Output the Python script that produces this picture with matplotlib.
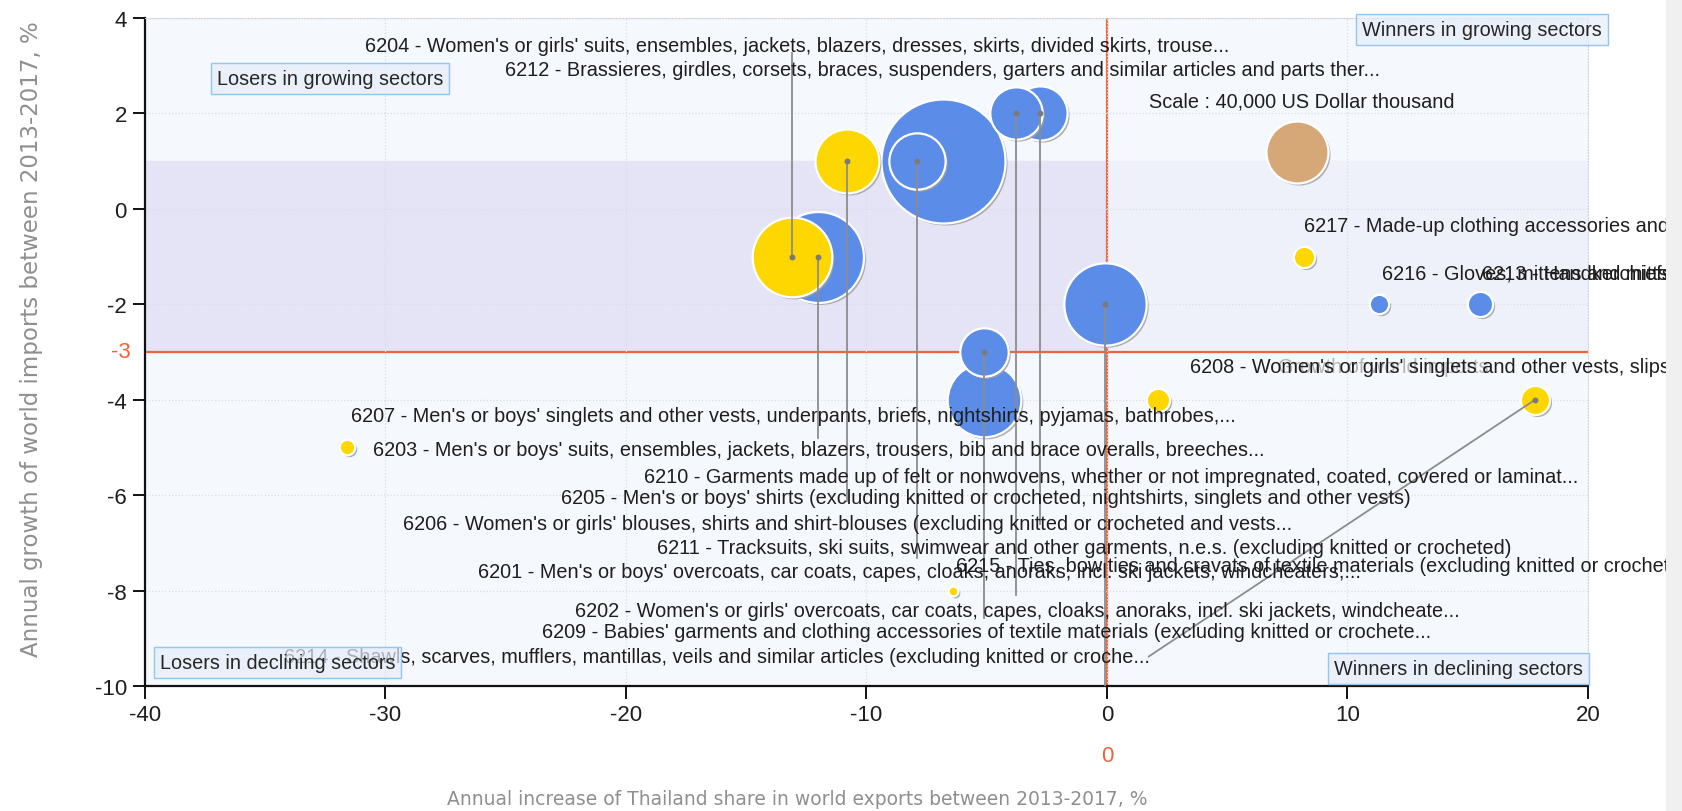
import matplotlib
matplotlib.use('Agg')
import numpy as np
import matplotlib.pyplot as plt
import matplotlib.transforms as mtransforms
from matplotlib import font_manager
from matplotlib.patches import Rectangle

# bubbles: x = increase of Thailand export share, y = growth of world imports,
# value = Thailand exports (US Dollar thousand)
bub_x = [-6.8, -12.0, -0.1, -13.1, -5.1, -10.8, -7.9, -2.8, -3.8, -5.1,
         17.8, 15.5, 2.1, 8.2, 11.3, -31.6, -6.4]
bub_y = [1.0, -1.0, -2.0, -1.0, -4.0, 1.0, 1.0, 2.0, 2.0, -3.0,
         -4.0, -2.0, -4.0, -1.0, -2.0, -5.0, -8.0]
bub_val = [160000, 86000, 70500, 66000, 56400, 42500, 33000, 30600, 28500, 24400,
           8800, 6600, 5600, 4700, 3900, 2500, 1000]
bub_kind = ['b', 'b', 'b', 'y', 'b', 'y', 'b', 'b', 'b', 'b',
            'y', 'b', 'y', 'y', 'b', 'y', 'y']

# scale bubble
scale_x, scale_y, scale_val = 7.9, 1.2, 40000

# leader lines: bubble index -> end point near its label
lead_from = [3, 1, 5, 6, 9, 8, 7, 2, 10]
lead_to_x = [-13.1, -12.0, -10.8, -7.9, -5.1, -3.8, -2.8, -0.1, 1.74]
lead_to_y = [3.26, -4.8, -6.12, -7.31, -8.57, -8.1, -6.6, -10.0, -9.38]

lab_text = [
    "6204 - Women's or girls' suits, ensembles, jackets, blazers, dresses, skirts, divided skirts, trouse...",
    "6212 - Brassieres, girdles, corsets, braces, suspenders, garters and similar articles and parts ther...",
    "Scale : 40,000 US Dollar thousand",
    "6217 - Made-up clothing accessories and parts of clothing or of clothing accessories",
    "6216 - Gloves, mittens and mitts, (excluding knitted or crocheted)",
    "6213 - Handkerchiefs",
    "6208 - Women's or girls' singlets and other vests, slips, petticoats, briefs",
    "6207 - Men's or boys' singlets and other vests, underpants, briefs, nightshirts, pyjamas, bathrobes,...",
    "6203 - Men's or boys' suits, ensembles, jackets, blazers, trousers, bib and brace overalls, breeches...",
    "6210 - Garments made up of felt or nonwovens, whether or not impregnated, coated, covered or laminat...",
    "6205 - Men's or boys' shirts (excluding knitted or crocheted, nightshirts, singlets and other vests)",
    "6206 - Women's or girls' blouses, shirts and shirt-blouses (excluding knitted or crocheted and vests...",
    "6211 - Tracksuits, ski suits, swimwear and other garments, n.e.s. (excluding knitted or crocheted)",
    "6201 - Men's or boys' overcoats, car coats, capes, cloaks, anoraks, incl. ski jackets, windcheaters,...",
    "6215 - Ties, bow ties and cravats of textile materials (excluding knitted or crocheted)",
    "6202 - Women's or girls' overcoats, car coats, capes, cloaks, anoraks, incl. ski jackets, windcheate...",
    "6209 - Babies' garments and clothing accessories of textile materials (excluding knitted or crochete...",
    "6214 - Shawls, scarves, mufflers, mantillas, veils and similar articles (excluding knitted or croche...",
]
lab_x = [-30.85, -25.04, 1.74, 8.21, 11.43, 15.58, 3.44, -31.43, -30.54, -19.24,
         -22.72, -29.29, -18.7, -26.16, -6.29, -22.14, -23.48, -34.2]
lab_y = [3.42, 2.92, 2.25, -0.34, -1.35, -1.35, -3.31, -4.34, -5.04, -5.6,
         -6.05, -6.59, -7.09, -7.6, -7.47, -8.41, -8.86, -9.38]

quad_text = ['Losers in growing sectors', 'Winners in growing sectors',
             'Losers in declining sectors', 'Winners in declining sectors']
quad_x = [-32.3, 15.6, -34.5, 14.6]
quad_y = [2.73, 3.75, -9.5, -9.64]

avg_x, avg_y = 0, -3

colors = {'b': '#5b8de8', 'y': '#fed600'}

plt.rcParams['axes.unicode_minus'] = False


def have_font(name):
    try:
        font_manager.findfont(font_manager.FontProperties(family=name),
                              fallback_to_default=False)
        return True
    except ValueError:
        return False


narrow = have_font('Liberation Sans Narrow')
lab_font = ['Liberation Sans Narrow', 'Liberation Sans'] if narrow else ['Liberation Sans']
lab_size = 17 if narrow else 14.3
tick_size = 19 if narrow else 16

W, H, DPI = 1683, 812, 100
fig = plt.figure(figsize=(W / DPI, H / DPI), dpi=DPI)
ax = fig.add_axes([145 / W, 1 - 687 / H, (1588 - 145) / W, (687 - 19) / H])
ax.set_xlim(-40, 20)
ax.set_ylim(-10, 4)
ax.set_facecolor('#f5f8fd')


def size_of(v):
    r_px = 31 * np.sqrt(v / 40000.0)
    return (2 * r_px * 72 / DPI) ** 2


# shaded band between average import growth and +1
ax.axhspan(avg_y, 1, xmin=0, xmax=(avg_x + 40) / 60, color='#e4e4f6', zorder=0)
ax.axhspan(avg_y, 1, xmin=(avg_x + 40) / 60, xmax=1, color='#eef1f9', zorder=0)

ax.set_xticks(np.arange(-40, 21, 10))
ax.set_yticks(np.arange(-10, 5, 2))
ax.grid(True, color='#d9dde4', linestyle=':', linewidth=0.9, zorder=0.5)

ax.axvline(avg_x, color='#f0643c', lw=1.6, zorder=1)
ax.axhline(avg_y, color='#f0643c', lw=1.6, zorder=1)

# leader lines
for i, tx, ty in zip(lead_from, lead_to_x, lead_to_y):
    ax.plot([bub_x[i], tx], [bub_y[i], ty], color='#8c8c8c', lw=1.3, zorder=30)

shadow = mtransforms.offset_copy(ax.transData, fig=fig, x=2, y=-2, units='dots')
order = np.argsort(bub_val)[::-1]
for k, i in enumerate(order):
    s = size_of(bub_val[i])
    ax.scatter(bub_x[i], bub_y[i], s=s, color='#a0a0a0', alpha=0.85,
               transform=shadow, zorder=3 + 2 * k, linewidths=0)
    ax.scatter(bub_x[i], bub_y[i], s=s, color=colors[bub_kind[i]],
               edgecolors='white', linewidths=1.6, zorder=4 + 2 * k)

ax.scatter(scale_x, scale_y, s=size_of(scale_val), color='#a0a0a0', alpha=0.85,
           transform=shadow, zorder=3, linewidths=0)
ax.scatter(scale_x, scale_y, s=size_of(scale_val), color='#d6a878',
           edgecolors='white', linewidths=1.6, zorder=4)

# centre dots where leaders start
ax.scatter([bub_x[i] for i in lead_from], [bub_y[i] for i in lead_from],
           s=18, color='#7a7a7a', zorder=31, linewidths=0)

for t, x, y in zip(lab_text, lab_x, lab_y):
    ax.text(x, y, t, family=lab_font, fontsize=lab_size, color='#1e1e1e',
            ha='left', va='center', zorder=40, clip_on=False)

# faint label of the average line
ax.text(7.1, -3.31, 'Growth of world imports', family=lab_font, fontsize=lab_size,
        color='#b4b4b4', ha='left', va='center', zorder=39, clip_on=False)

for t, x, y in zip(quad_text, quad_x, quad_y):
    ax.text(x, y, t, family=lab_font, fontsize=lab_size, color='#262626',
            ha='center', va='center', zorder=50, clip_on=False,
            bbox=dict(boxstyle='square,pad=0.3', facecolor=(0.90, 0.93, 0.98, 0.7),
                      edgecolor='#93c6ee', linewidth=1.0))

for side in ['top', 'right']:
    ax.spines[side].set_linestyle(':')
    ax.spines[side].set_color('#cfd4dc')
for side in ['left', 'bottom']:
    ax.spines[side].set_color('#111111')
    ax.spines[side].set_linewidth(1.6)
ax.tick_params(direction='out', length=9, width=1.4, color='#111111',
               labelsize=tick_size, pad=4)
for lbl in ax.get_xticklabels() + ax.get_yticklabels():
    lbl.set_family(lab_font)
    lbl.set_color('#1e1e1e')

# averages marked in red on the axes
ax.annotate('-3', xy=(0, avg_y), xycoords=('axes fraction', 'data'),
            xytext=(-10.5, 0), textcoords='offset points', ha='right', va='center',
            color='#f0643c', family=lab_font, fontsize=tick_size)
ax.annotate('0', xy=(avg_x, 0), xycoords=('data', 'axes fraction'),
            xytext=(0, -50), textcoords='offset points', ha='center', va='center',
            color='#f0643c', family=lab_font, fontsize=tick_size)

fig.text(797 / W, 1 - 800 / H,
         'Annual increase of Thailand share in world exports between 2013-2017, %',
         family='DejaVu Sans', fontsize=13.5, color='#8f8f8f', ha='center', va='center')
fig.text(32 / W, 1 - 339 / H,
         'Annual growth of world imports between 2013-2017, %',
         family='DejaVu Sans', fontsize=16.5, color='#8f8f8f', ha='center', va='center',
         rotation=90)

fig.patches.append(Rectangle((1666 / W, 0), 1 - 1666 / W, 1, transform=fig.transFigure,
                             facecolor='#f0f0f0', edgecolor='none', zorder=10))

fig.savefig('out.png', dpi=DPI)
